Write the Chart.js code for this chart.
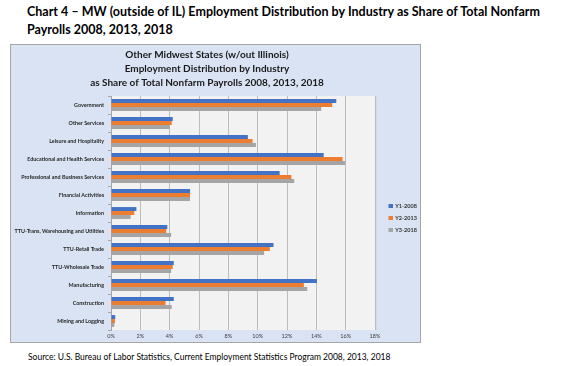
<!DOCTYPE html>
<html>
<head>
<meta charset="utf-8">
<script src="https://cdn.jsdelivr.net/npm/chart.js@4/dist/chart.umd.min.js"></script>
<style>
  html, body { margin: 0; padding: 0; background: #fff; }
  body { width: 570px; height: 366px; position: relative; overflow: hidden; font-family: Lato, "Open Sans", sans-serif; }
  .ttl { position: absolute; left: 27px; font-weight: bold; font-size: 12.5px; line-height: 18px; color: #000; }
  #t1 { top: 3px; width: 513px; text-align: justify; text-align-last: justify; }
  #t2 { top: 21px; white-space: nowrap; }
  #box { position: absolute; left: 10px; top: 44px; width: 411px; height: 299px; box-sizing: border-box; background: #dae3f3; border: 1px solid #a6a6a6; }
  #wrap { position: absolute; left: -6px; top: 45px; width: 426px; height: 297px; }
  #src { position: absolute; left: 28px; top: 351px; font-size: 8.5px; line-height: 12px; color: #000; white-space: nowrap; }
</style>
</head>
<body>
<div class="ttl" id="t1">Chart 4 – MW (outside of IL) Employment Distribution by Industry as Share of Total Nonfarm</div>
<div class="ttl" id="t2">Payrolls 2008, 2013, 2018</div>
<div id="box"></div>
<div id="wrap"><canvas id="c" width="426" height="297"></canvas></div>
<div id="src">Source: U.S. Bureau of Labor Statistics, Current Employment Statistics Program 2008, 2013, 2018</div>
<script>
const categories = ['Government','Other Services','Leisure and Hospitality','Educational and Health Services','Professional and Business Services','Financial Activities','Information','TTU-Trans, Warehousing and Utilities','TTU-Retail Trade','TTU-Wholesale Trade','Manufacturing','Construction','Mining and Logging'];
const seriesNames = ['Y1-2008','Y2-2013','Y3-2018'];
const y2008 = [15.36, 4.21, 9.33, 14.50, 11.50, 5.39, 1.73, 3.84, 11.08, 4.28, 14.04, 4.28, 0.29];
const y2013 = [15.08, 4.14, 9.65, 15.79, 12.30, 5.39, 1.59, 3.77, 10.83, 4.21, 13.15, 3.72, 0.27];
const y2018 = [14.33, 4.00, 9.88, 15.97, 12.49, 5.39, 1.34, 4.10, 10.44, 4.10, 13.38, 4.14, 0.23];
const chartTitle = ['Other Midwest States (w/out Illinois)','Employment Distribution by Industry','as Share of Total Nonfarm Payrolls 2008, 2013, 2018'];
const xMin = 0, xMax = 18, xStep = 2;

const colors = ['#4472c4', '#ed7d31', '#a5a5a5'];

function legendSwatch(color) {
  const cv = document.createElement('canvas');
  cv.width = 11; cv.height = 4;
  const g = cv.getContext('2d');
  g.fillStyle = color;
  g.fillRect(7, 0, 4, 4);
  return cv;
}
const swatches = colors.map(legendSwatch);

const plotBg = {
  id: 'plotBg',
  beforeDraw(chart) {
    const a = chart.chartArea, ctx = chart.ctx;
    ctx.save();
    ctx.fillStyle = '#f2f2f2';
    ctx.fillRect(a.left, a.top, a.right - a.left, a.bottom - a.top);
    ctx.fillStyle = '#d0d0d0';
    ctx.fillRect(a.right, a.top + 1, 1.5, a.bottom - a.top - 1);
    ctx.restore();
  }
};

new Chart(document.getElementById('c'), {
  type: 'bar',
  data: {
    labels: categories,
    datasets: [
      { label: seriesNames[0], data: y2008, backgroundColor: colors[0] },
      { label: seriesNames[1], data: y2013, backgroundColor: colors[1] },
      { label: seriesNames[2], data: y2018, backgroundColor: colors[2] }
    ]
  },
  options: {
    indexAxis: 'y',
    responsive: false,
    animation: false,
    devicePixelRatio: 1,
    categoryPercentage: 0.66,
    barPercentage: 1.0,
    layout: { padding: { left: 0, right: 0, top: 0, bottom: 0 } },
    plugins: {
      title: {
        display: true,
        text: chartTitle,
        color: '#1a1a1a',
        font: { family: 'Lato', size: 10, weight: 'bold', lineHeight: 1.4 },
        padding: { top: 3, bottom: 6 }
      },
      legend: {
        display: true,
        position: 'right',
        align: 'center',
        fullSize: false,
        maxWidth: 45,
        title: { display: true, text: ' ', font: { size: 1 }, padding: { top: 9, bottom: 0 } },
        labels: {
          usePointStyle: true,
          pointStyleWidth: 11,
          boxHeight: 4,
          padding: 6.5,
          color: '#333',
          font: { family: 'Lato', size: 5.5, weight: 'bold' },
          generateLabels(chart) {
            const items = Chart.defaults.plugins.legend.labels.generateLabels(chart);
            items.forEach((it, i) => { it.pointStyle = swatches[i]; });
            return items;
          }
        }
      },
      tooltip: { enabled: false }
    },
    scales: {
      x: {
        type: 'linear',
        min: xMin, max: xMax,
        afterFit(s) { s.height = 12; },
        ticks: {
          stepSize: xStep,
          color: '#404040',
          padding: 3,
          font: { family: 'Lato', size: 5.5 },
          callback: v => v + '%'
        },
        grid: { color: '#bcbcbc', lineWidth: 1, drawTicks: false },
        border: { display: false }
      },
      y: {
        afterFit(s) { s.width = 117; },
        ticks: {
          color: '#262626',
          padding: 4,
          autoSkip: false,
          font: { family: 'Lato', size: 5.4, weight: 'bold' }
        },
        grid: { drawOnChartArea: false, drawTicks: true, tickLength: 3, color: '#a6a6a6', offset: true },
        border: { display: true, color: '#a6a6a6', width: 1 }
      }
    }
  },
  plugins: [plotBg]
});
</script>
</body>
</html>
